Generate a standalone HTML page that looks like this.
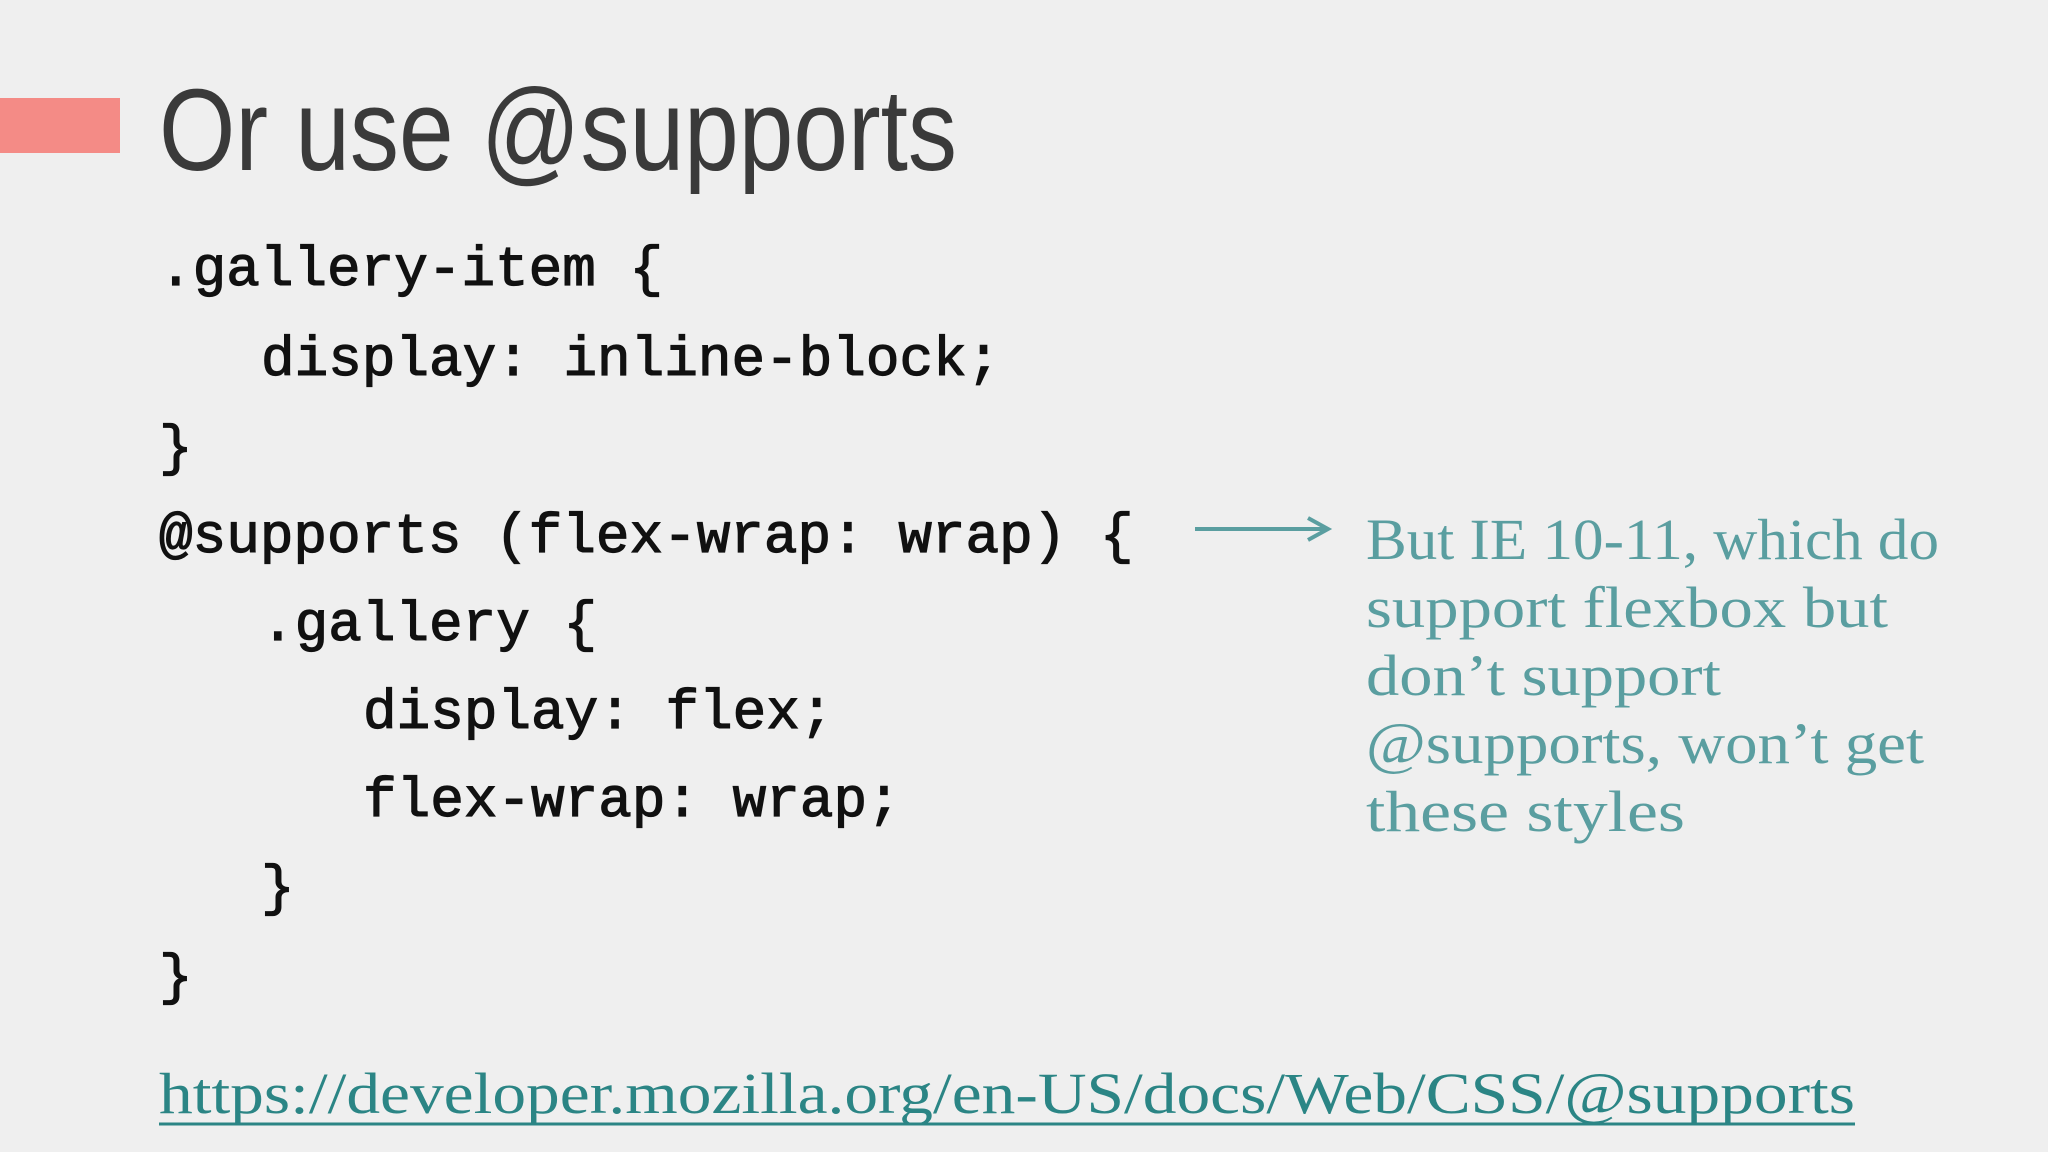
<!DOCTYPE html>
<html><head><meta charset="utf-8">
<style>
html,body{margin:0;padding:0;width:2048px;height:1152px;overflow:hidden;background:#efefef;}
svg{display:block}
</style></head>
<body>
<svg width="2048" height="1152" viewBox="0 0 2048 1152" xmlns="http://www.w3.org/2000/svg">
<rect width="2048" height="1152" fill="#efefef"/>
<rect x="0" y="98" width="120" height="55" fill="#f48b86"/>
<text x="159" y="170" font-family="Liberation Sans Narrow, Liberation Sans, sans-serif" font-size="116" fill="#3a3a3a" textLength="798" lengthAdjust="spacingAndGlyphs">Or use @supports</text>
<g font-family="Liberation Mono, monospace" font-size="56" fill="#111" stroke="#111" stroke-width="1.2" xml:space="preserve">
<text x="159" y="285">.gallery-item {</text>
<text x="261" y="375">display: inline-block;</text>
<text x="159" y="464">}</text>
<text x="159" y="552">@supports (flex-wrap: wrap) {</text>
<text x="261" y="640">.gallery {</text>
<text x="363" y="728">display: flex;</text>
<text x="363" y="816">flex-wrap: wrap;</text>
<text x="261" y="904">}</text>
<text x="159" y="993">}</text>
</g>
<line x1="1195" y1="529" x2="1325" y2="529" stroke="#5a9ea0" stroke-width="4"/>
<polyline points="1308,518 1328,529 1308,540" fill="none" stroke="#5a9ea0" stroke-width="4"/>
<g font-family="Liberation Serif, serif" font-size="58" fill="#5a9ea0">
<text x="1366" y="559" textLength="573" lengthAdjust="spacingAndGlyphs">But IE 10-11, which do</text>
<text x="1366" y="627" textLength="522" lengthAdjust="spacingAndGlyphs">support flexbox but</text>
<text x="1366" y="695" textLength="355" lengthAdjust="spacingAndGlyphs">don’t support</text>
<text x="1366" y="763" textLength="558" lengthAdjust="spacingAndGlyphs">@supports, won’t get</text>
<text x="1366" y="831" textLength="319" lengthAdjust="spacingAndGlyphs">these styles</text>
</g>
<text x="159" y="1113" font-family="Liberation Serif, serif" font-size="58" fill="#2b8585" textLength="1696" lengthAdjust="spacingAndGlyphs">https://developer.mozilla.org/en-US/docs/Web/CSS/@supports</text>
<line x1="159" y1="1124" x2="1855" y2="1124" stroke="#2b8585" stroke-width="3"/>
</svg>
</body></html>
